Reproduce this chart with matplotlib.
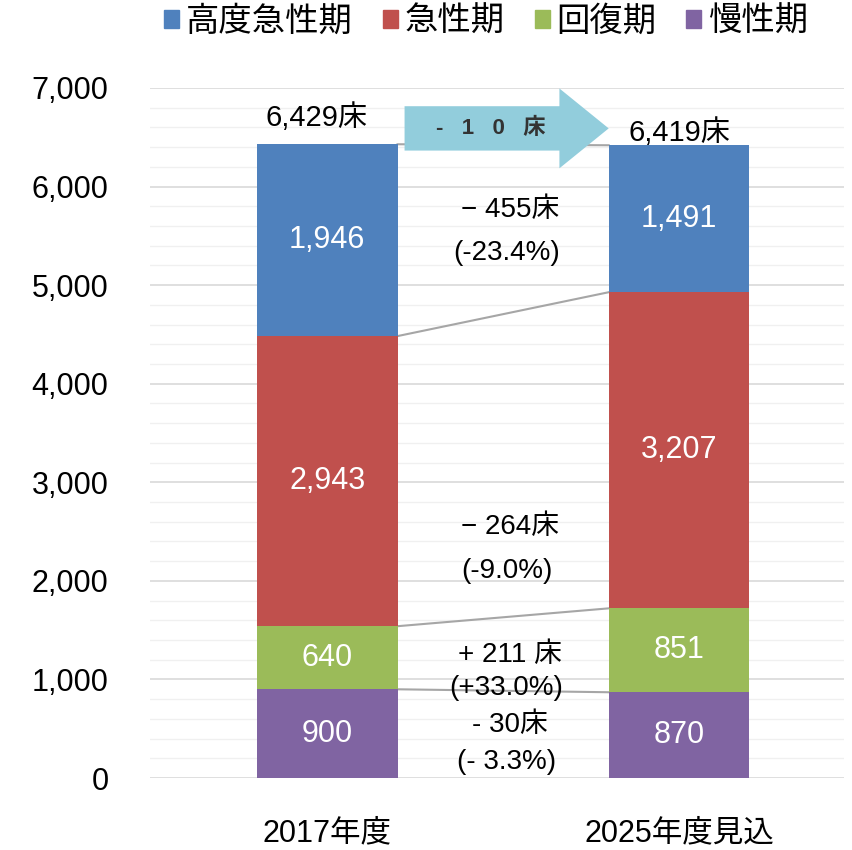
import matplotlib.pyplot as plt
from matplotlib.patches import FancyArrow, Patch
import numpy as np

plt.rcParams['font.family'] = ['Liberation Sans', 'Noto Sans CJK JP', 'DejaVu Sans']

# data
years = ['2017年度', '2025年度見込']
categories = ['高度急性期', '急性期', '回復期', '慢性期']
acute_high = [1946, 1491]
acute = [2943, 3207]
recovery = [640, 851]
chronic = [900, 870]
totals = [6429, 6419]
total_labels = ['6,429床', '6,419床']
change_top = ['− 455床', '− 264床', '+ 211 床', '- 30床']
change_bottom = ['(-23.4%)', '(-9.0%)', '(+33.0%)', '(- 3.3%)']
change_y_top = [5760, 2550, 1250, 540]
change_y_bottom = [5330, 2100, 910, 160]

colors = ['#4F81BD', '#C0504D', '#9BBB59', '#8064A2']

fig = plt.figure(figsize=(8.53, 8.50), dpi=100)
ax = fig.add_axes([0.176, 0.0847, 0.814, 0.8118])

x = np.arange(len(years))
w = 0.4
stack = [chronic, recovery, acute, acute_high]
stack_colors = colors[::-1]
bottom = np.zeros(2)
tops = []
for vals, c in zip(stack, stack_colors):
    vals = np.array(vals)
    ax.bar(x, vals, w, bottom=bottom, color=c, zorder=3)
    for xi, b, v in zip(x, bottom, vals):
        ax.text(xi, b + v / 2, f'{v:,}', ha='center', va='center', color='white', fontsize=22, zorder=5)
    bottom = bottom + vals
    tops.append(bottom.copy())

# connector lines between bars
for t in tops:
    ax.plot([x[0] + w / 2, x[1] - w / 2], [t[0], t[1]], color='#a6a6a6', lw=1.5, zorder=2)

# totals
ax.text(x[0] - 0.03, totals[0] + 270, total_labels[0], ha='center', va='center', fontsize=21, zorder=6)
ax.text(x[1] + 0.0, totals[1] + 130, total_labels[1], ha='center', va='center', fontsize=21, zorder=6)

# arrow
arr = FancyArrow(0.22, 6590, 0.58, 0, width=450, head_width=810, head_length=0.14,
                 length_includes_head=True, color='#92CDDC', lw=0, zorder=4, clip_on=False)
ax.add_patch(arr)
ax.text(0.465, 6590, '-   1   0   床', ha='center', va='center', fontsize=16, fontweight='bold',
        color='#333333', zorder=6)

# change annotations
for t1, t2, y1, y2 in zip(change_top, change_bottom, change_y_top, change_y_bottom):
    ax.text(0.52, y1, t1, ha='center', va='center', fontsize=20, zorder=6)
    ax.text(0.51, y2, t2, ha='center', va='center', fontsize=20, zorder=6)

ax.set_xlim(-0.503, 1.47)
ax.set_ylim(0, 7000)
ax.set_yticks(np.arange(0, 7001, 1000))
ax.set_yticklabels([f'{v:,}' for v in range(0, 7001, 1000)])
ax.set_yticks(np.arange(0, 7001, 200), minor=True)
ax.set_xticks(x)
ax.set_xticklabels(years)
ax.tick_params(axis='y', which='both', length=0, labelsize=22, pad=30)
ax.tick_params(axis='x', length=0, labelsize=22, pad=29)
ax.grid(axis='y', which='major', color='#d9d9d9', lw=1.2, zorder=0)
ax.grid(axis='y', which='minor', color='#f0f0f0', lw=1.0, zorder=0)
for s in ax.spines.values():
    s.set_visible(False)

handles = [Patch(color=c, label=l) for c, l in zip(colors, categories)]
fig.legend(handles=handles, loc='center', bbox_to_anchor=(0.57, 0.974), ncol=4, frameon=False,
           fontsize=24, handlelength=0.45, handleheight=0.45, handletextpad=0.2, columnspacing=0.9)

fig.savefig('out.png', dpi=100)
